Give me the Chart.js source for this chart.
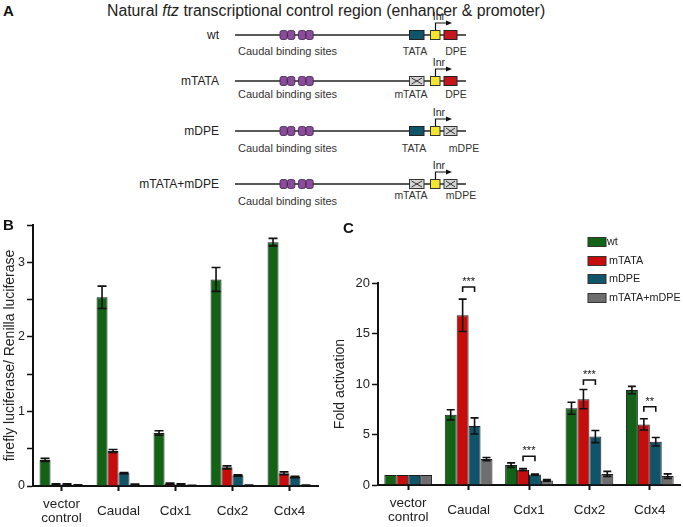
<!DOCTYPE html>
<html>
<head>
<meta charset="utf-8">
<script src="https://cdn.jsdelivr.net/npm/chart.js@4.4.1/dist/chart.umd.min.js"></script>
<style>
  body { margin: 0; background: #fff; }
  #fig { position: relative; width: 683px; height: 527px; font-family: 'Liberation Sans', Arial, sans-serif; color: #222; overflow: hidden; }
  #schematic { position: absolute; left: 0; top: 0; }
  #chartB { position: absolute; left: 0; top: 195px; }
  #chartC { position: absolute; left: 330px; top: 195px; }
  .panel { position: absolute; font-weight: bold; font-size: 15px; color: #111; }
</style>
</head>
<body>
<div id="fig">
  <svg id="schematic" width="683" height="215"></svg>
  <canvas id="chartB" width="330" height="332"></canvas>
  <canvas id="chartC" width="353" height="332"></canvas>
  <div class="panel" style="left:3px;top:2px">A</div>
  <div class="panel" style="left:3px;top:216px">B</div>
  <div class="panel" style="left:343px;top:219px">C</div>
</div>
<script>
const categories = [['vector', 'control'], 'Caudal', 'Cdx1', 'Cdx2', 'Cdx4'];
const seriesNames = ['wt', 'mTATA', 'mDPE', 'mTATA+mDPE'];
const seriesColors = ['#126316', '#c70c0c', '#0f5468', '#6e6e6e'];

// panel B: firefly luciferase / Renilla luciferase
const ratioWt = [0.35, 2.53, 0.71, 2.77, 3.27];
const ratioMTATA = [0.02, 0.47, 0.03, 0.25, 0.17];
const ratioMDPE = [0.02, 0.17, 0.02, 0.14, 0.12];
const ratioBoth = [0.01, 0.02, 0.005, 0.01, 0.01];
const ratioErrWt = [0.02, 0.15, 0.03, 0.16, 0.05];
const ratioErrMTATA = [0.01, 0.02, 0.01, 0.02, 0.02];
const ratioErrMDPE = [0.01, 0.01, 0.01, 0.01, 0.01];
const ratioErrBoth = [0.005, 0.005, 0.003, 0.003, 0.003];

// panel C: fold activation
const foldWt = [1, 6.95, 1.97, 7.6, 9.4];
const foldMTATA = [1, 16.8, 1.52, 8.5, 6.0];
const foldMDPE = [1, 5.85, 1.03, 4.8, 4.28];
const foldBoth = [1, 2.57, 0.45, 1.1, 0.88];
const foldErrWt = [0, 0.5, 0.22, 0.6, 0.36];
const foldErrMTATA = [0, 1.6, 0.1, 0.95, 0.56];
const foldErrMDPE = [0, 0.8, 0.06, 0.6, 0.42];
const foldErrBoth = [0, 0.16, 0.08, 0.25, 0.22];

// significance brackets in C (mTATA vs mDPE)
const sigCategory = [1, 2, 3, 4];
const sigLevel = [19.6, 2.85, 10.4, 7.75];
const sigText = ['***', '***', '***', '**'];

Chart.defaults.font.family = "'Liberation Sans', Arial, sans-serif";
Chart.defaults.color = '#222';

// ---- panel A schematic ----
const rows = [
  { name: 'wt', y: 35, box1: 'TATA', box3: 'DPE', labDy: 16, cauDy: 16, l1x: 415, l3x: 456 },
  { name: 'mTATA', y: 81, box1: 'mTATA', box3: 'DPE', labDy: 13, cauDy: 13, l1x: 411, l3x: 456 },
  { name: 'mDPE', y: 131, box1: 'TATA', box3: 'mDPE', labDy: 17, cauDy: 17, l1x: 414, l3x: 464 },
  { name: 'mTATA+mDPE', y: 184, box1: 'mTATA', box3: 'mDPE', labDy: 11, cauDy: 17, l1x: 411, l3x: 461 },
];

function boxSvg(x, y, w, kind) {
  const top = y - 4.5;
  if (kind.startsWith('m')) {
    return `<rect x="${x}" y="${top}" width="${w}" height="9" fill="#d4d4d4" stroke="#333" stroke-width="1"/>` +
      `<line x1="${x + 2}" y1="${top + 1.5}" x2="${x + w - 2}" y2="${top + 7.5}" stroke="#333" stroke-width="1"/>` +
      `<line x1="${x + 2}" y1="${top + 7.5}" x2="${x + w - 2}" y2="${top + 1.5}" stroke="#333" stroke-width="1"/>`;
  }
  const fill = kind === 'TATA' ? '#0f5468' : '#c4161c';
  return `<rect x="${x}" y="${top}" width="${w}" height="9" fill="${fill}" stroke="#222" stroke-width="1"/>`;
}

let svgText = `<text x="107" y="16" font-size="15.8" fill="#222">Natural <tspan font-style="italic">ftz</tspan> transcriptional control region (enhancer &amp; promoter)</text>`;
rows.forEach(r => {
  const y = r.y;
  svgText += `<text x="219" y="${y + 4}" font-size="12" text-anchor="end" fill="#222">${r.name}</text>`;
  svgText += `<line x1="235" y1="${y}" x2="466" y2="${y}" stroke="#222" stroke-width="1.3"/>`;
  [280, 287.6, 298.5, 306].forEach(x => {
    svgText += `<rect x="${x}" y="${y - 4.5}" width="7.2" height="9" rx="2" fill="#8c4c9c" stroke="#3a2045" stroke-width="0.8"/>`;
  });
  svgText += boxSvg(409.5, y, 14.5, r.box1);
  svgText += boxSvg(444, y, 13, r.box3);
  svgText += `<rect x="430.5" y="${y - 4.5}" width="9.5" height="9" fill="#f4e52e" stroke="#333" stroke-width="1"/>`;
  svgText += `<polyline points="435.5,${y - 4.5} 435.5,${y - 12} 447,${y - 12}" fill="none" stroke="#111" stroke-width="1.2"/>`;
  svgText += `<polygon points="446,${y - 14.5} 452,${y - 12} 446,${y - 9.5}" fill="#111"/>`;
  svgText += `<text x="439" y="${y - 15}" font-size="10.5" text-anchor="middle" fill="#222">Inr</text>`;
  svgText += `<text x="238" y="${y + r.cauDy + 4}" font-size="11" fill="#333">Caudal binding sites</text>`;
  svgText += `<text x="${r.l1x}" y="${y + r.labDy + 4}" font-size="10.5" text-anchor="middle" fill="#333">${r.box1}</text>`;
  svgText += `<text x="${r.l3x}" y="${y + r.labDy + 4}" font-size="10.5" text-anchor="middle" fill="#333">${r.box3}</text>`;
});
document.getElementById('schematic').innerHTML = svgText;

// ---- plugins ----
function makeErrorBars(errors, cap) {
  return {
    id: 'errorBars',
    afterDatasetsDraw(chart) {
      const { ctx } = chart;
      const y = chart.scales.y;
      ctx.save();
      ctx.strokeStyle = '#111';
      ctx.lineWidth = 1.6;
      errors.forEach((errs, i) => {
        const meta = chart.getDatasetMeta(i);
        meta.data.forEach((bar, j) => {
          const e = errs[j];
          if (!e) return;
          const v = chart.data.datasets[i].data[j];
          const top = y.getPixelForValue(v + e);
          const bot = y.getPixelForValue(Math.max(0, v - e));
          ctx.beginPath();
          ctx.moveTo(bar.x, top); ctx.lineTo(bar.x, bot);
          ctx.moveTo(bar.x - cap, top); ctx.lineTo(bar.x + cap, top);
          ctx.moveTo(bar.x - cap, bot); ctx.lineTo(bar.x + cap, bot);
          ctx.stroke();
        });
      });
      ctx.restore();
    },
  };
}

const sigBrackets = {
  id: 'sigBrackets',
  afterDatasetsDraw(chart) {
    const { ctx } = chart;
    const y = chart.scales.y;
    const red = chart.getDatasetMeta(1).data;
    const blue = chart.getDatasetMeta(2).data;
    ctx.save();
    ctx.strokeStyle = '#111';
    ctx.fillStyle = '#111';
    ctx.lineWidth = 1.6;
    ctx.font = "11px 'Liberation Sans', Arial, sans-serif";
    ctx.textAlign = 'center';
    ctx.textBaseline = 'alphabetic';
    sigCategory.forEach((k, i) => {
      const x1 = red[k].x, x2 = blue[k].x;
      const py = y.getPixelForValue(sigLevel[i]);
      ctx.beginPath();
      ctx.moveTo(x1, py + 5); ctx.lineTo(x1, py); ctx.lineTo(x2, py); ctx.lineTo(x2, py + 5);
      ctx.stroke();
      ctx.fillText(sigText[i], (x1 + x2) / 2, py - 2);
    });
    ctx.restore();
  },
};

const boxLegend = {
  id: 'boxLegend',
  afterDraw(chart) {
    const { ctx } = chart;
    const rowsY = [47, 66, 84, 103];
    ctx.save();
    ctx.font = "10.8px 'Liberation Sans', Arial, sans-serif";
    ctx.textBaseline = 'middle';
    chart.data.datasets.forEach((ds, i) => {
      ctx.fillStyle = ds.backgroundColor;
      ctx.fillRect(258, rowsY[i] - 4.5, 18, 9);
      ctx.strokeStyle = '#333';
      ctx.lineWidth = 1;
      ctx.strokeRect(258, rowsY[i] - 4.5, 18, 9);
      ctx.fillStyle = '#222';
      ctx.fillText(ds.label, i === 0 ? 277 : 279, rowsY[i]);
    });
    ctx.restore();
  },
};

function makeDatasets(values, pct) {
  return values.map((data, i) => ({
    label: seriesNames[i],
    data,
    backgroundColor: seriesColors[i],
    borderColor: '#1c1c1c',
    borderWidth: 1,
    barPercentage: 1,
    categoryPercentage: pct,
  }));
}

function axes(opts) {
  return {
    x: {
      grid: { drawOnChartArea: false, offset: false, tickLength: 5, tickColor: '#111', tickWidth: 2 },
      border: { color: '#111', width: 2 },
      ticks: { font: { size: 13.5, lineHeight: 1.05 }, color: '#222', padding: 13, crossAlign: 'center', maxRotation: 0, autoSkip: false },
      afterFit: s => { s.height = opts.xHeight; },
    },
    y: {
      min: 0,
      max: opts.max,
      grid: { drawOnChartArea: false, tickLength: 6, tickColor: '#111', tickWidth: 1.5 },
      border: { color: '#111', width: 2 },
      ticks: { stepSize: opts.step, font: { size: opts.tickSize }, color: '#222', padding: 2, callback: opts.tickLabel },
      title: { display: true, text: opts.title, font: { size: 14 }, color: '#222', padding: { top: 2, bottom: 0 } },
      afterFit: s => { s.width = opts.yWidth; },
    },
  };
}

new Chart(document.getElementById('chartB'), {
  type: 'bar',
  data: {
    labels: categories,
    datasets: makeDatasets([ratioWt, ratioMTATA, ratioMDPE, ratioBoth], 0.77),
  },
  options: {
    responsive: false,
    animation: false,
    layout: { padding: { top: 30, right: 12, left: 0, bottom: 0 } },
    plugins: { legend: { display: false }, tooltip: { enabled: false } },
    scales: axes({
      max: 3.5, step: 0.5, tickSize: 12.5, xHeight: 41, yWidth: 33,
      title: 'firefly luciferase/ Renilla luciferase',
      tickLabel: v => (Number.isInteger(v) ? v : ''),
    }),
  },
  plugins: [makeErrorBars([ratioErrWt, ratioErrMTATA, ratioErrMDPE, ratioErrBoth], 4.5)],
});

new Chart(document.getElementById('chartC'), {
  type: 'bar',
  data: {
    labels: categories,
    datasets: makeDatasets([foldWt, foldMTATA, foldMDPE, foldBoth], 0.79),
  },
  options: {
    responsive: false,
    animation: false,
    layout: { padding: { top: 88, right: 3, left: 0, bottom: 0 } },
    plugins: { legend: { display: false }, tooltip: { enabled: false } },
    scales: axes({
      max: 20, step: 5, tickSize: 13, xHeight: 42, yWidth: 48,
      title: 'Fold activation',
      tickLabel: v => v,
    }),
  },
  plugins: [makeErrorBars([foldErrWt, foldErrMTATA, foldErrMDPE, foldErrBoth], 4), sigBrackets, boxLegend],
});
</script>
</body>
</html>
